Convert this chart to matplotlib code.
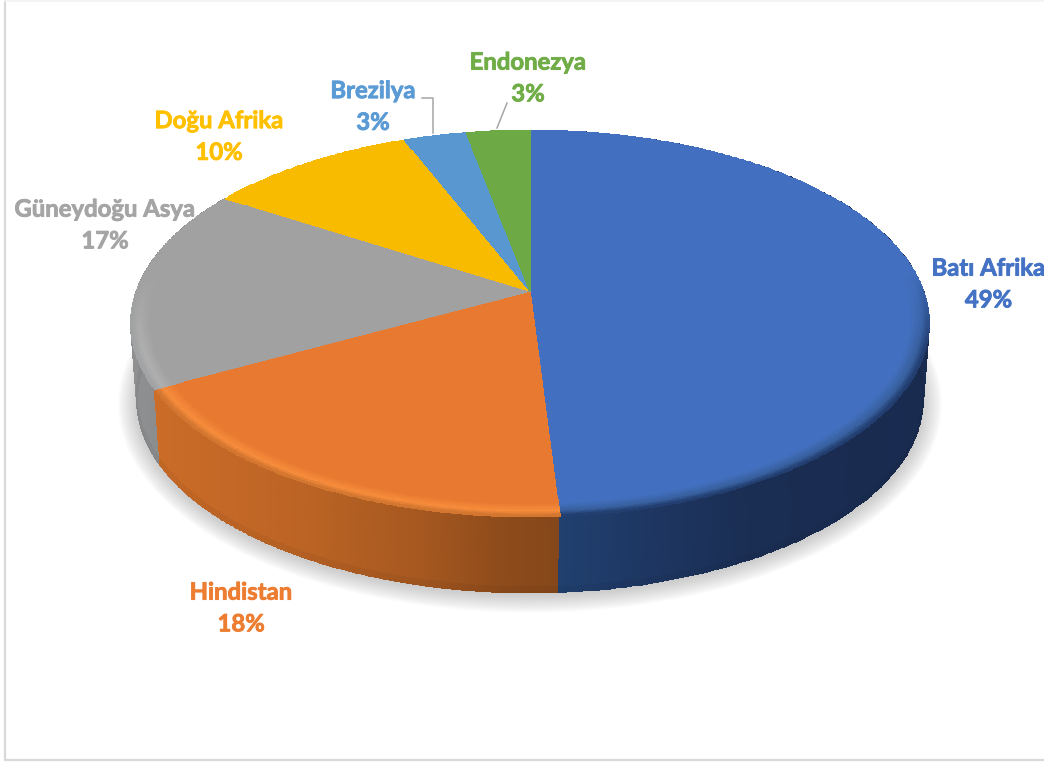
import numpy as np
import matplotlib
matplotlib.use('Agg')
import matplotlib.pyplot as plt
from matplotlib.colors import to_rgb
from matplotlib.patches import Ellipse
import matplotlib.patheffects as pe

plt.rcParams['font.family'] = ['Lato', 'DejaVu Sans']

# Pazar payları
bolgeler = ['Batı Afrika', 'Hindistan', 'Güneydoğu Asya', 'Doğu Afrika', 'Brezilya', 'Endonezya']
paylar = [49, 18, 17, 10, 3, 3]
renkler = ['#4472C4', '#ED7D31', '#A5A5A5', '#FFC000', '#5B9BD5', '#70AD47']

# Yan yüzey tonları: ekran x konumuna göre
YAN_TON = {
    'Batı Afrika': ([558, 640, 760, 930], ['#21406F', '#1E3763', '#1A2D52', '#192B4F']),
    'Hindistan': ([155, 300, 420, 500, 558], ['#CB6C28', '#BC6425', '#A65820', '#8E4B1B', '#85471A']),
    'Güneydoğu Asya': ([128, 160], ['#8F9193', '#8A8C8E']),
}
# Üst yüzey kenar yumuşatması: (parlak, dış) tonlar
KENAR_TON = {
    'Batı Afrika': ['#38609F', '#213C6C'],
    'Hindistan': ['#F78C3C', '#D0742F'],
    'Güneydoğu Asya': ['#AFAFAF', '#A0A2A3'],
}

CX, CY = 530, 290.5
R, H, K = 393, 187.3, 0.171
DERINLIK = 76


def izdusum(aci, r=1.0):
    """Saat yönünde tepeden ölçülen açıyı perspektifli ekran konumuna çevirir"""
    x = r * np.sin(aci)
    y = r * np.cos(aci)
    w = 1 + K * y
    return CX + R * x / w, CY - H * y / w


def alt_kenar(aci):
    sx, sy = izdusum(aci)
    return CX + (sx - CX) * 0.985, sy + DERINLIK


def ton(x, duraklar, hex_renkler):
    rgb = np.array([to_rgb(c) for c in hex_renkler])
    return np.stack([np.interp(x, duraklar, rgb[:, i]) for i in range(3)], axis=-1)


fig = plt.figure(figsize=(10.44, 7.62), dpi=100, facecolor='white')
ax = fig.add_axes([0, 0, 1, 1])
ax.set_xlim(0, 1044)
ax.set_ylim(762, 0)
ax.axis('off')

# Çerçeve
ax.plot([4.5, 4.5, 1044], [0, 760, 760], color='#D9D9D9', lw=1.6, zorder=1)
ax.plot([4.5, 1044], [0.5, 0.5], color='#F2F2F2', lw=1.2, zorder=1)

# Gölge
for olcek in np.linspace(1.045, 0.99, 14):
    ax.add_patch(Ellipse((CX, 404), 2 * 394 * olcek, 2 * 192 * (olcek + (olcek - 1) * 0.9),
                         facecolor='#808080', edgecolor='none', alpha=0.035, zorder=2))

sinirlar = 2 * np.pi * np.cumsum([0] + paylar) / sum(paylar)

# Yan yüzeyler, arkadan öne
for i in range(len(bolgeler) - 1, -1, -1):
    ad = bolgeler[i]
    if ad not in YAN_TON:
        continue
    aci = np.linspace(sinirlar[i], sinirlar[i + 1], 260)
    v = np.linspace(0, 1, 16)[:, None]
    ux, uy = izdusum(aci)
    ax_, ay_ = alt_kenar(aci)
    X = ux + (ax_ - ux) * v
    Y = uy + (ay_ - uy) * v
    orta_x = 0.5 * (X[:-1, :-1] + X[1:, 1:])
    renk = ton(orta_x, *YAN_TON[ad])
    # alt kenara doğru çok hafif koyulaşma
    vm = 0.5 * (v[:-1] + v[1:])
    renk = renk * (1 - 0.08 * np.clip((vm - 0.92) / 0.08, 0, 1))[..., None]
    ax.pcolormesh(X, Y, renk, shading='flat', edgecolors='face', linewidth=0.3, zorder=3)

# Üst yüzey dilimleri
yaricap = np.r_[0, 0.9, np.linspace(0.93, 1, 24)]
for i, ad in enumerate(bolgeler):
    aci = np.linspace(sinirlar[i], sinirlar[i + 1], max(30, paylar[i] * 8))
    A, Rr = np.meshgrid(aci, yaricap)
    X, Y = izdusum(A, Rr)
    Am = 0.5 * (A[:-1, :-1] + A[1:, 1:])
    Rm = 0.5 * (Rr[:-1, :-1] + Rr[1:, 1:])
    taban = np.array(to_rgb(renkler[i])) * 0.975
    renk = np.ones(Am.shape + (3,)) * taban
    if ad in KENAR_TON:
        on_yuz = np.clip((0.1 - np.cos(Am)) / 0.4, 0, 1)
        kenar = ton(Rm, [0.955, 0.983, 1.0], [tuple(taban)] + KENAR_TON[ad])
        renk = renk + (kenar - renk) * on_yuz[..., None]
    ax.pcolormesh(X, Y, renk, shading='flat', edgecolors='face', linewidth=0.3, zorder=4)

# Etiketler
etiket_yeri = [(988.5, 284), (241, 608), (105, 225), (219, 136.5), (373, 106.5), (528, 78)]
for ad, pay, renk, (ex, ey) in zip(bolgeler, paylar, renkler, etiket_yeri):
    t = ax.text(ex, ey, f'{ad}\n{pay}%', color=renk, fontsize=17.2, fontweight='bold',
                ha='center', va='center', linespacing=1.46, zorder=6, clip_on=True)
    t.set_path_effects([pe.withStroke(linewidth=0.6, foreground=renk)])

# Kılavuz çizgileri
ax.plot([422, 433, 433], [98, 98, 133], color='#A6A6A6', lw=1.1, zorder=5)
ax.plot([507, 497], [103, 128], color='#A6A6A6', lw=1.1, zorder=5)

fig.savefig('out.png', dpi=100, facecolor='white')
